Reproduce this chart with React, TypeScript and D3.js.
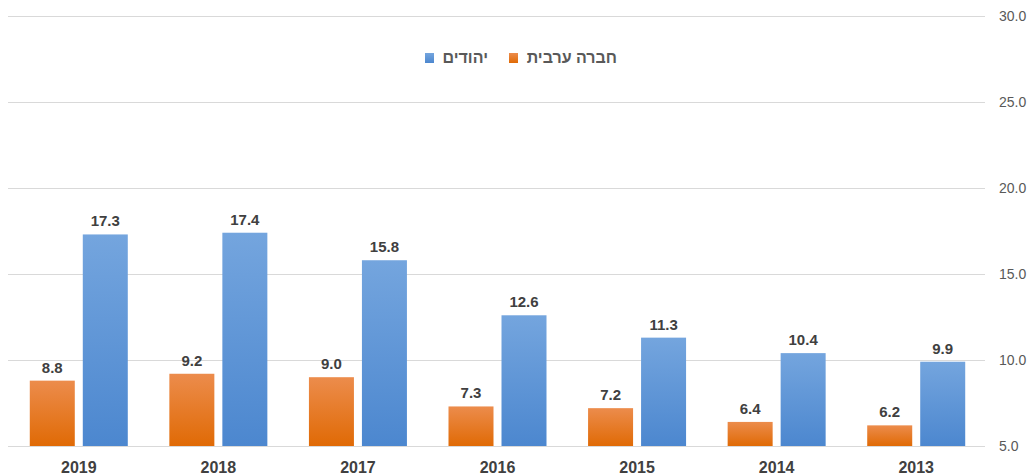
import React, { useEffect, useRef } from 'react';
import * as d3 from 'd3';

const years = ['2019', '2018', '2017', '2016', '2015', '2014', '2013'];
const arabValues = [8.8, 9.2, 9.0, 7.3, 7.2, 6.4, 6.2];
const jewishValues = [17.3, 17.4, 15.8, 12.6, 11.3, 10.4, 9.9];
const yTicks = [5, 10, 15, 20, 25, 30];
const arabLabel = 'חברה ערבית';
const jewishLabel = 'יהודים';

const App = () => {
  const svgRef = useRef<SVGSVGElement>(null);

  useEffect(() => {
    const svg = d3.select(svgRef.current)
      .attr('width', 1028)
      .attr('height', 476);

    svg.selectAll('*').remove();

    const defs = svg.append('defs');
    const grad = (id: string, top: string, bottom: string) => {
      const g = defs.append('linearGradient').attr('id', id)
        .attr('x1', 0).attr('y1', 0).attr('x2', 0).attr('y2', 1);
      g.append('stop').attr('offset', '0%').attr('stop-color', top);
      g.append('stop').attr('offset', '100%').attr('stop-color', bottom);
    };
    grad('gOrange', '#EC8C4C', '#E06A05');
    grad('gBlue', '#74A5DE', '#4C87CF');

    const xScale = d3.scaleBand()
      .domain(years)
      .range([9, 986])
      .paddingInner(0)
      .paddingOuter(0);

    const yScale = d3.scaleLinear()
      .domain([5, 30])
      .range([446, 16]);

    // gridlines + tick labels
    svg.append('g')
      .selectAll('line')
      .data(yTicks)
      .enter()
      .append('line')
      .attr('x1', 8)
      .attr('x2', 985)
      .attr('y1', d => yScale(d) + 0.5)
      .attr('y2', d => yScale(d) + 0.5)
      .attr('stroke', '#D9D9D9')
      .attr('stroke-width', 1);

    svg.append('g')
      .selectAll('text')
      .data(yTicks)
      .enter()
      .append('text')
      .attr('x', 999)
      .attr('y', d => yScale(d) + 5)
      .attr('font-family', 'Liberation Sans, Arial, sans-serif')
      .attr('font-size', 14)
      .attr('fill', '#595959')
      .text(d => d.toFixed(1));

    const bw = 45;
    const gap = 8;
    const groupW = bw * 2 + gap;
    const off = (xScale.bandwidth() - groupW) / 2;

    const drawBars = (vals: number[], dx: number, fill: string) => {
      const g = svg.append('g');
      g.selectAll('rect')
        .data(vals)
        .enter()
        .append('rect')
        .attr('x', (d, i) => (xScale(years[i]) as number) + off + dx)
        .attr('y', d => yScale(d))
        .attr('width', bw)
        .attr('height', d => yScale(5) - yScale(d))
        .attr('fill', fill);
      g.selectAll('text')
        .data(vals)
        .enter()
        .append('text')
        .attr('x', (d, i) => (xScale(years[i]) as number) + off + dx + bw / 2)
        .attr('y', d => yScale(d) - 8)
        .attr('text-anchor', 'middle')
        .attr('font-family', 'Liberation Sans, Arial, sans-serif')
        .attr('font-size', 15)
        .attr('font-weight', 'bold')
        .attr('fill', '#404040')
        .text(d => d.toFixed(1));
    };

    drawBars(arabValues, 0, 'url(#gOrange)');
    drawBars(jewishValues, bw + gap, 'url(#gBlue)');

    // category labels
    svg.append('g')
      .selectAll('text')
      .data(years)
      .enter()
      .append('text')
      .attr('x', d => (xScale(d) as number) + xScale.bandwidth() / 2)
      .attr('y', 473)
      .attr('text-anchor', 'middle')
      .attr('font-family', 'Liberation Sans, Arial, sans-serif')
      .attr('font-size', 16)
      .attr('font-weight', 'bold')
      .attr('fill', '#404040')
      .text(d => d);

    // legend
    const legend = svg.append('g');
    legend.append('rect').attr('x', 425).attr('y', 53).attr('width', 9).attr('height', 10).attr('fill', 'url(#gBlue)');
    legend.append('text')
      .attr('x', 488).attr('y', 63)
      .attr('text-anchor', 'end')
      .attr('font-family', 'Liberation Sans, Arial, sans-serif')
      .attr('font-size', 16)
      .attr('font-weight', 'bold')
      .attr('fill', '#595959')
      .text(jewishLabel);
    legend.append('rect').attr('x', 509).attr('y', 53).attr('width', 9).attr('height', 10).attr('fill', 'url(#gOrange)');
    legend.append('text')
      .attr('x', 617).attr('y', 63)
      .attr('text-anchor', 'end')
      .attr('font-family', 'Liberation Sans, Arial, sans-serif')
      .attr('font-size', 16)
      .attr('font-weight', 'bold')
      .attr('fill', '#595959')
      .text(arabLabel);
  }, []);

  return <svg ref={svgRef} style={{ position: 'absolute', left: 0, top: 0 }}></svg>;
};

export default App;
